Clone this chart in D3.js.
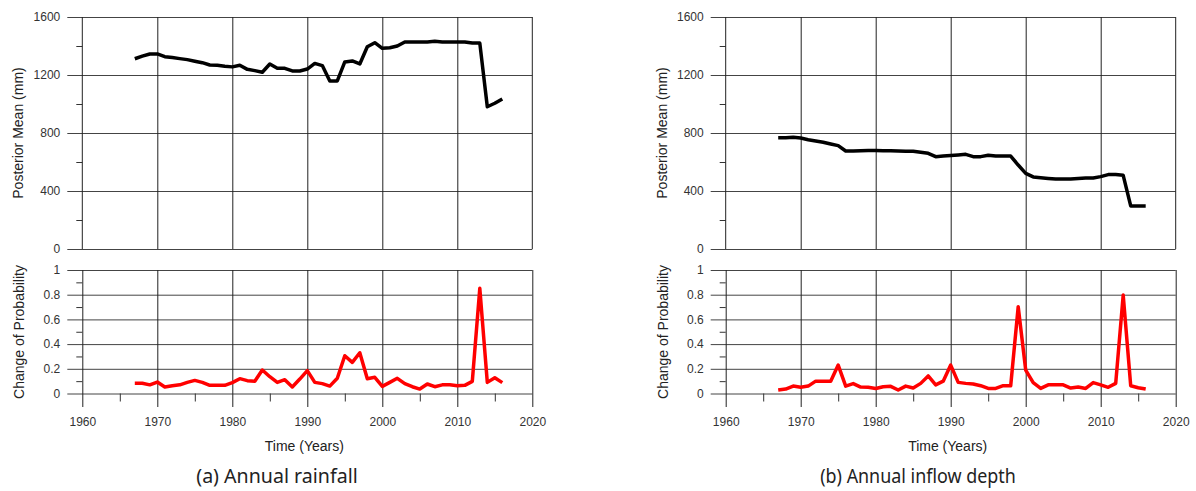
<!DOCTYPE html>
<html>
<head>
<meta charset="utf-8">
<script src="https://cdn.jsdelivr.net/npm/d3@7"></script>
<style>
  html, body { margin: 0; padding: 0; background: #fff; }
  svg { display: block; }
  .tick text { font-family: 'Liberation Sans', Arial, sans-serif; font-size: 12px; fill: #333; }
</style>
</head>
<body>
<div id="chart"></div>
<script>
// ── data ────────────────────────────────
const years = [1967, 1968, 1969, 1970, 1971, 1972, 1973, 1974, 1975, 1976,
  1977, 1978, 1979, 1980, 1981, 1982, 1983, 1984, 1985, 1986,
  1987, 1988, 1989, 1990, 1991, 1992, 1993, 1994, 1995, 1996,
  1997, 1998, 1999, 2000, 2001, 2002, 2003, 2004, 2005, 2006,
  2007, 2008, 2009, 2010, 2011, 2012, 2013, 2014, 2015, 2016];

const rainMean = [1312, 1330, 1345, 1345, 1326, 1320, 1313, 1306, 1295, 1285,
  1269, 1267, 1260, 1256, 1267, 1239, 1230, 1219, 1276, 1246,
  1246, 1228, 1228, 1241, 1280, 1265, 1159, 1159, 1290, 1297,
  1276, 1395, 1423, 1384, 1388, 1400, 1428, 1428, 1428, 1428,
  1432, 1428, 1428, 1428, 1428, 1420, 1420, 981, 1005, 1035];

const rainProb = [0.083, 0.083, 0.07, 0.093, 0.053, 0.063, 0.07, 0.09, 0.106, 0.09,
  0.066, 0.066, 0.066, 0.088, 0.12, 0.104, 0.1, 0.19, 0.136, 0.09,
  0.112, 0.053, 0.117, 0.185, 0.09, 0.08, 0.06, 0.123, 0.306, 0.252,
  0.33, 0.12, 0.131, 0.058, 0.09, 0.123, 0.08, 0.055, 0.036, 0.077,
  0.055, 0.07, 0.07, 0.063, 0.066, 0.098, 0.852, 0.09, 0.128, 0.088];

const flowMean = [768, 768, 770, 765, 754, 745, 736, 724, 713, 676,
  676, 678, 680, 680, 678, 678, 676, 674, 674, 667,
  660, 637, 641, 644, 648, 653, 637, 637, 646, 641,
  641, 641, 579, 522, 497, 492, 487, 483, 483, 483,
  487, 490, 490, 499, 513, 513, 508, 297, 297, 297];

const flowProb = [0.028, 0.036, 0.06, 0.05, 0.06, 0.1, 0.1, 0.1, 0.23, 0.06,
  0.08, 0.052, 0.05, 0.041, 0.055, 0.058, 0.028, 0.06, 0.044, 0.082,
  0.142, 0.07, 0.1, 0.23, 0.09, 0.082, 0.077, 0.063, 0.041, 0.041,
  0.063, 0.063, 0.703, 0.19, 0.088, 0.041, 0.07, 0.07, 0.07, 0.044,
  0.052, 0.041, 0.088, 0.07, 0.05, 0.082, 0.797, 0.063, 0.047, 0.036];

const xMajor = [1960, 1970, 1980, 1990, 2000, 2010, 2020];
const xMinor = [1965, 1975, 1985, 1995, 2005, 2015];
const meanMajor = [0, 400, 800, 1200, 1600];
const meanMinor = [200, 600, 1000, 1400];
const probMajor = [0, 0.2, 0.4, 0.6, 0.8, 1];
const probMinor = [0.1, 0.3, 0.5, 0.7, 0.9];
const captions = ['(a) Annual rainfall', '(b) Annual inflow depth'];

// ── layout ──────────────────────────────
const W = 1196, H = 491;
const FONT = "'Liberation Sans', Arial, sans-serif";

const svg = d3.select('#chart').append('svg')
  .attr('width', W).attr('height', H).attr('viewBox', `0 0 ${W} ${H}`);

function drawPanel(x0, mean, prob, caption, capX) {
  const x = d3.scaleLinear([1960, 2020], [x0, x0 + 450]);
  const yTop = d3.scaleLinear([0, 1600], [249, 17]);
  const yBot = d3.scaleLinear([0, 1], [393.5, 270]);
  const xr = x0 + 450;
  const g = svg.append('g');

  // ── top: posterior mean
  g.append('g').attr('transform', `translate(${x0 - 15},0)`)
    .call(d3.axisLeft(yTop).tickValues(meanMajor).tickSize(-(xr - x0 + 15)).tickPadding(7).tickFormat(d3.format('d')))
    .call(a => a.select('.domain').remove())
    .call(a => a.selectAll('line').attr('stroke', '#444'));
  g.append('g').attr('transform', `translate(${x0},0)`)
    .call(d3.axisLeft(yTop).tickValues(meanMinor).tickSize(6).tickFormat(''))
    .call(a => a.select('.domain').remove())
    .call(a => a.selectAll('line').attr('stroke', '#333'));
  g.append('g').attr('transform', 'translate(0,249)')
    .call(d3.axisBottom(x).tickValues(xMajor.slice(1, -1)).tickSize(-232).tickFormat(''))
    .call(a => a.select('.domain').remove())
    .call(a => a.selectAll('line').attr('stroke', '#222'));
  [x0, xr].forEach(v => g.append('line')
    .attr('x1', v).attr('x2', v).attr('y1', 17).attr('y2', 249).attr('stroke', '#222'));

  g.append('path').datum(years)
    .attr('fill', 'none').attr('stroke', '#000').attr('stroke-width', 3.5)
    .attr('stroke-linejoin', 'round')
    .attr('d', d3.line().x(d => x(d)).y((d, i) => yTop(mean[i])));

  g.append('text')
    .attr('transform', `translate(${x0 - 64},133) rotate(-90)`)
    .attr('text-anchor', 'middle').attr('dy', '0.35em')
    .attr('font-family', FONT).attr('font-size', 14).attr('fill', '#222')
    .text('Posterior Mean (mm)');

  // ── bottom: change of probability
  g.append('g').attr('transform', `translate(${x0 - 15},0)`)
    .call(d3.axisLeft(yBot).tickValues(probMajor).tickSize(-(xr - x0 + 15)).tickPadding(7).tickFormat(d3.format('')))
    .call(a => a.select('.domain').remove())
    .call(a => a.selectAll('line').attr('stroke', '#444'));
  g.append('g').attr('transform', `translate(${x0},0)`)
    .call(d3.axisLeft(yBot).tickValues(probMinor).tickSize(6).tickFormat(''))
    .call(a => a.select('.domain').remove())
    .call(a => a.selectAll('line').attr('stroke', '#333'));
  g.append('g').attr('transform', 'translate(0,407)')
    .call(d3.axisBottom(x).tickValues(xMajor).tickSize(-137).tickPadding(10).tickFormat(d3.format('d')))
    .call(a => a.select('.domain').remove())
    .call(a => a.selectAll('line').attr('stroke', '#222'));
  g.append('g').attr('transform', 'translate(0,393.5)')
    .call(d3.axisBottom(x).tickValues(xMinor).tickSize(8).tickFormat(''))
    .call(a => a.select('.domain').remove())
    .call(a => a.selectAll('line').attr('stroke', '#333'));

  g.append('path').datum(years)
    .attr('fill', 'none').attr('stroke', '#ff0000').attr('stroke-width', 3.5)
    .attr('stroke-linejoin', 'round')
    .attr('d', d3.line().x(d => x(d)).y((d, i) => yBot(prob[i])));

  g.append('text')
    .attr('transform', `translate(${x0 - 63},332) rotate(-90)`)
    .attr('text-anchor', 'middle').attr('dy', '0.35em')
    .attr('font-family', FONT).attr('font-size', 14).attr('fill', '#222')
    .text('Change of Probability');

  g.append('text')
    .attr('x', x0 + 222).attr('y', 451)
    .attr('text-anchor', 'middle')
    .attr('font-family', FONT).attr('font-size', 14).attr('fill', '#222')
    .text('Time (Years)');

  g.append('text')
    .attr('x', capX).attr('y', 483)
    .attr('text-anchor', 'middle')
    .attr('font-family', "'Noto Sans', sans-serif").attr('font-size', 20).attr('fill', '#222')
    .attr('textLength', caption.length * 8.5).attr('lengthAdjust', 'spacingAndGlyphs')
    .text(caption);
}

drawPanel(82.3, rainMean, rainProb, captions[0], 277);
drawPanel(725.7, flowMean, flowProb, captions[1], 918);
</script>
</body>
</html>
